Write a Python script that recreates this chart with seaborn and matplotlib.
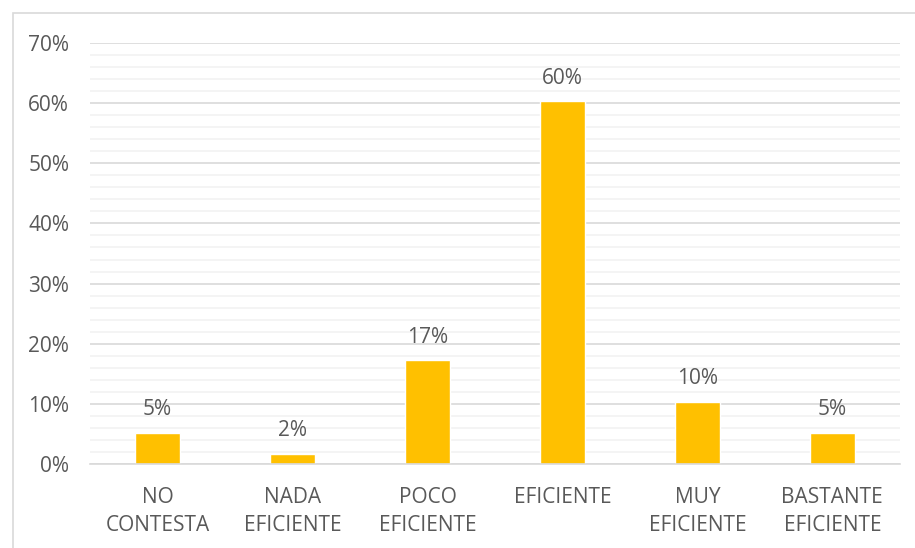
import matplotlib
matplotlib.use("Agg")
import pandas as pd
import seaborn as sns
import matplotlib.pyplot as plt
from matplotlib.ticker import MultipleLocator, PercentFormatter
from matplotlib.patches import Rectangle

# datos (porcentajes)
categorias = ["NO\nCONTESTA", "NADA\nEFICIENTE", "POCO\nEFICIENTE", "EFICIENTE", "MUY\nEFICIENTE", "BASTANTE\nEFICIENTE"]
valores = [5.17, 1.72, 17.24, 60.34, 10.34, 5.17]
etiquetas = ["5%", "2%", "17%", "60%", "10%", "5%"]

df = pd.DataFrame({"categoria": categorias, "valor": valores})

sns.set_style("white")
plt.rcParams["font.family"] = ["Open Sans", "DejaVu Sans"]
gris = "#595959"

fig = plt.figure(figsize=(9.15, 5.48), dpi=100)
ax = fig.add_axes([0.0984, 0.1533, 0.885, 0.7682])

sns.barplot(data=df, x="categoria", y="valor", color="#FFC000", width=0.333, saturation=1, ax=ax)

ax.set_ylim(0, 70)
ax.yaxis.set_major_locator(MultipleLocator(10))
ax.yaxis.set_minor_locator(MultipleLocator(2))
ax.yaxis.set_major_formatter(PercentFormatter(decimals=0))
ax.grid(axis="y", which="major", color="#d9d9d9", linewidth=1.2)
ax.grid(axis="y", which="minor", color="#f2f2f2", linewidth=1.2)
ax.set_axisbelow(True)

for s in ["top", "right", "left"]:
    ax.spines[s].set_visible(False)
ax.spines["bottom"].set_color("#d9d9d9")
ax.spines["bottom"].set_linewidth(1.2)

ax.tick_params(axis="both", which="both", length=0, labelsize=15, labelcolor=gris)
ax.tick_params(axis="y", pad=15)
ax.tick_params(axis="x", pad=16.5)
for t in ax.get_xticklabels():
    t.set_linespacing(1.45)
ax.set_xlabel("")
ax.set_ylabel("")

ax.bar_label(ax.containers[0], labels=etiquetas, padding=9, fontsize=15, color=gris)

# marco gris del grafico
fig.patches.append(Rectangle((0.014, -0.01), 1.0, 0.986, transform=fig.transFigure,
                             fill=False, edgecolor="#d9d9d9", linewidth=1.2))

fig.savefig("out.png", dpi=100)
